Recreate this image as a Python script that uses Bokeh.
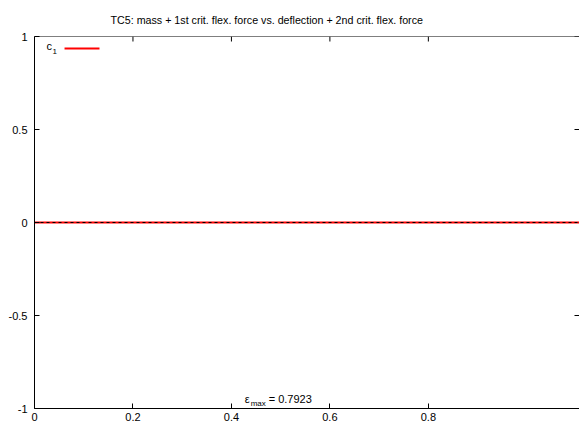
import math
from bokeh.plotting import figure
from bokeh.models import Range1d, FixedTicker, Label, Arrow, Span
from bokeh.embed import file_html
from bokeh.resources import INLINE

# ---- data ----
deflection = [0.0, 1.107]
c1 = [0.0, 0.0]
reference = [0.0, 0.0]
x_ticks = [0.0, 0.2, 0.4, 0.6, 0.8]
x_tick_labels = ["0", "0.2", "0.4", "0.6", "0.8"]
y_ticks = [-1.0, -0.5, 0.0, 0.5, 1.0]
y_tick_labels = ["-1", "-0.5", "0", "0.5", "1"]
eps_max_text = "= 0.7923"
series_name = "c"
series_sub = "1"
title_text = "TC5: mass + 1st crit. flex. force vs. deflection + 2nd crit. flex. force"

FONT = "Liberation Sans"
X_END = 1.107

p = figure(width=579, height=425, output_backend="svg", toolbar_location=None,
           x_range=Range1d(0, X_END), y_range=Range1d(-1, 1),
           min_border_left=34, min_border_right=0, min_border_bottom=17,
           min_border_top=0)
p.outline_line_color = None
p.xgrid.visible = False
p.ygrid.visible = False
p.background_fill_color = "white"
p.border_fill_color = "white"

p.title.text = title_text
p.title.align = "left"
p.title.offset = 70
p.title.standoff = 9.5
p.title.padding = 6
p.title.text_font = FONT
p.title.text_font_size = "10.7px"
p.title.text_font_style = "normal"
p.title.text_color = "black"

for ax in (p.xaxis[0], p.yaxis[0]):
    ax.major_tick_in = 5
    ax.major_tick_out = 0
    ax.minor_tick_line_color = None
    ax.major_tick_line_color = "black"
    ax.axis_line_color = "black"
    ax.major_label_text_font = FONT
    ax.major_label_text_font_size = "11px"
    ax.major_label_text_color = "black"

p.xaxis.ticker = FixedTicker(ticks=x_ticks)
p.xaxis.major_label_overrides = dict(zip(x_ticks, x_tick_labels))
p.xaxis.major_label_standoff = 4
p.yaxis.ticker = FixedTicker(ticks=y_ticks)
p.yaxis.major_label_overrides = dict(zip(y_ticks, y_tick_labels))
p.yaxis.major_label_standoff = 7

# top border and mirrored ticks (top and right)
p.add_layout(Span(location=1, dimension="width", line_color="black", line_width=1))
p.ray(x=x_ticks, y=[1.0] * len(x_ticks), length=5, length_units="screen",
      angle=-math.pi / 2, line_color="black", line_width=1)
p.ray(x=[X_END] * len(y_ticks), y=y_ticks, length=5, length_units="screen",
      angle=math.pi, line_color="black", line_width=1)

p.line(deflection, c1, line_color="#ff0000", line_width=2)
p.line(deflection, reference, line_color="black", line_width=1, line_dash="3 3")

# legend (gnuplot style: text then sample)
p.add_layout(Label(x=0, y=1, x_offset=12, y_offset=-15, text=series_name,
                   text_font=FONT, text_font_size="11px", text_color="black"))
p.add_layout(Label(x=0, y=1, x_offset=18, y_offset=-17, text=series_sub,
                   text_font=FONT, text_font_size="8px", text_color="black"))
p.add_layout(Arrow(start=None, end=None, x_start=0.061, y_start=0.935,
                   x_end=0.132, y_end=0.935, line_color="#ff0000", line_width=2))

# epsilon annotation
p.add_layout(Label(x=0.5, y=-1, x_offset=-36, y_offset=4, text="ε",
                   text_font=FONT, text_font_size="11px", text_color="black"))
p.add_layout(Label(x=0.5, y=-1, x_offset=-30, y_offset=1, text="max",
                   text_font=FONT, text_font_size="8px", text_color="black"))
p.add_layout(Label(x=0.5, y=-1, x_offset=-12, y_offset=4, text=eps_max_text,
                   text_font=FONT, text_font_size="11px", text_color="black"))

open("out.html", "w").write(file_html(p, INLINE))
